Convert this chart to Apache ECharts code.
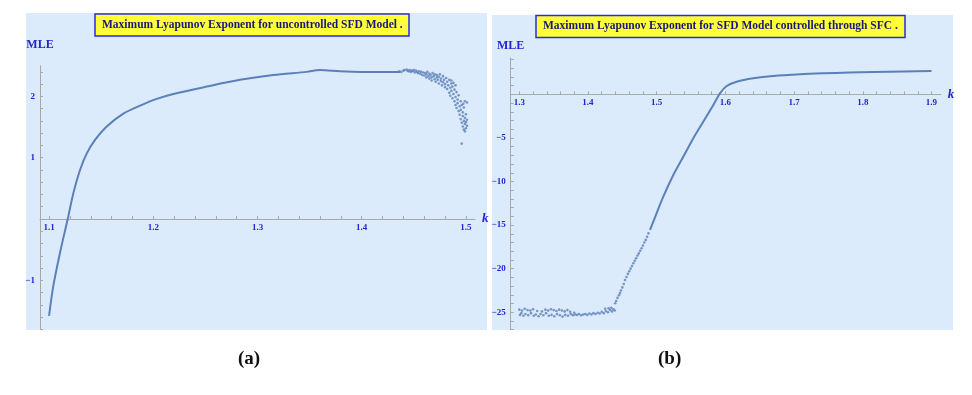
<!DOCTYPE html>
<html>
<head>
<meta charset="utf-8">
<script src="https://cdn.jsdelivr.net/npm/echarts@6/dist/echarts.min.js"></script>
<style>
html,body{margin:0;padding:0;background:#fff;}
#chart{width:972px;height:395px;}
</style>
</head>
<body>
<div id="chart"></div>
<script>
// ---------- Panel (a): uncontrolled SFD model ----------
var titleA = "Maximum Lyapunov Exponent for uncontrolled SFD Model .";
var lineA = [
  [1.100,-1.58],[1.104,-1.10],[1.1105,-0.55],[1.1179,0.00],[1.1233,0.42],[1.1297,0.80],
  [1.1362,1.07],[1.1441,1.29],[1.1553,1.51],[1.1713,1.72],[1.1873,1.85],[1.2033,1.96],
  [1.2193,2.04],[1.2513,2.16],[1.2832,2.27],[1.3152,2.35],[1.3472,2.40],[1.360,2.43],
  [1.3791,2.41],[1.400,2.40],[1.420,2.40],[1.437,2.40]
];
var scatterA = [
  [1.436,2.41],[1.438,2.40],[1.440,2.42],[1.441,2.43],[1.443,2.44],[1.444,2.42],[1.445,2.41],
  [1.446,2.43],[1.447,2.40],[1.448,2.42],[1.449,2.41],[1.450,2.43],[1.451,2.39],[1.452,2.42],
  [1.453,2.40],[1.454,2.38],[1.455,2.41],[1.456,2.37],[1.457,2.40],[1.458,2.35],[1.459,2.39],
  [1.460,2.34],[1.461,2.38],[1.462,2.31],[1.462,2.36],[1.463,2.40],[1.464,2.33],[1.465,2.29],
  [1.465,2.37],[1.466,2.35],[1.467,2.31],[1.467,2.26],[1.468,2.38],[1.469,2.33],[1.470,2.28],
  [1.470,2.36],[1.471,2.24],[1.472,2.31],[1.472,2.35],[1.473,2.27],[1.474,2.21],[1.474,2.32],
  [1.475,2.36],[1.476,2.25],[1.476,2.29],[1.477,2.18],[1.478,2.33],[1.478,2.23],[1.479,2.27],
  [1.480,2.15],[1.480,2.20],[1.481,2.30],[1.482,2.12],[1.482,2.24],[1.483,2.18],[1.484,2.06],
  [1.484,2.27],[1.485,2.14],[1.485,2.01],[1.486,2.21],[1.486,2.09],[1.487,1.97],[1.487,2.16],
  [1.488,2.04],[1.488,2.22],[1.489,1.92],[1.489,2.11],[1.490,1.99],[1.490,1.86],[1.491,2.07],
  [1.491,1.81],[1.492,1.95],[1.492,1.89],[1.493,1.76],[1.493,2.02],[1.494,1.84],[1.494,1.70],
  [1.495,1.92],[1.495,1.63],[1.495,1.78],[1.496,1.57],[1.496,1.86],[1.496,1.23],[1.497,1.68],
  [1.497,1.51],[1.497,1.74],[1.498,1.46],[1.498,1.60],[1.498,1.82],[1.499,1.55],[1.499,1.43],
  [1.499,1.65],[1.500,1.48],[1.500,1.58],[1.500,1.71],[1.501,1.52],[1.501,1.62],[1.490,2.18],
  [1.486,2.26],[1.4975,1.88],[1.499,1.92],[1.501,1.90]
];
var xLabelsA = [1.1,1.2,1.3,1.4,1.5];
var yLabelsA = [-1,1,2];

// ---------- Panel (b): controlled through SFC ----------
var titleB = "Maximum Lyapunov Exponent for SFD Model controlled through SFC .";
var lineB = [
  [1.4903,-15.56],[1.4961,-14.4],[1.5096,-11.74],[1.5242,-9.25],[1.5387,-7.16],[1.5533,-5.04],
  [1.5678,-3.14],[1.5824,-1.23],[1.5921,0.11],[1.6019,0.95],[1.6164,1.44],[1.6406,1.83],
  [1.6697,2.10],[1.7086,2.30],[1.7425,2.41],[1.780,2.50],[1.815,2.57],[1.860,2.63],[1.900,2.67]
];
var scatterB = [
  [1.300,-24.7],[1.304,-24.8],[1.308,-24.6],[1.312,-24.75],[1.316,-24.8],[1.320,-24.65],[1.326,-24.85],
  [1.333,-24.9],[1.338,-24.7],[1.342,-24.8],[1.346,-24.65],[1.350,-24.75],[1.354,-24.85],[1.358,-24.7],
  [1.362,-24.8],[1.366,-24.9],[1.370,-24.75],
  [1.301,-25.3],[1.303,-25.1],[1.306,-25.4],[1.309,-25.2],[1.313,-25.35],[1.317,-25.1],[1.321,-25.4],
  [1.324,-25.25],[1.328,-25.45],[1.331,-25.2],[1.335,-25.35],[1.339,-25.1],[1.343,-25.4],[1.347,-25.3],
  [1.351,-25.45],[1.355,-25.2],[1.359,-25.35],[1.363,-25.5],[1.367,-25.3],[1.371,-25.4],[1.375,-25.2],
  [1.378,-25.35],[1.381,-25.25],[1.384,-25.3],[1.387,-25.2],[1.390,-25.35],[1.393,-25.25],[1.396,-25.2],
  [1.399,-25.3],[1.402,-25.15],[1.405,-25.25],[1.408,-25.1],[1.411,-25.2],[1.414,-25.05],[1.417,-25.15],
  [1.420,-24.95],[1.423,-25.1],[1.426,-24.85],[1.429,-25.0],[1.432,-24.75],[1.435,-24.9],[1.437,-24.65],
  [1.439,-24.8],[1.374,-24.95],[1.380,-25.05],[1.425,-24.6],[1.430,-24.55],[1.434,-24.5],
  [1.4396,-23.97],[1.441,-23.7],[1.443,-23.35],[1.445,-23.05],[1.4466,-22.8],[1.448,-22.5],[1.450,-22.15],
  [1.452,-21.75],[1.4539,-21.3],[1.456,-20.95],[1.458,-20.6],[1.460,-20.3],[1.462,-20.0],[1.464,-19.7],
  [1.466,-19.38],[1.468,-19.1],[1.470,-18.8],[1.472,-18.5],[1.474,-18.25],[1.476,-17.95],[1.478,-17.66],
  [1.480,-17.35],[1.482,-17.0],[1.484,-16.7],[1.486,-16.35],[1.488,-15.95]
];
var xLabelsB = [1.3,1.4,1.5,1.6,1.7,1.8,1.9];
var yLabelsB = [-25,-20,-15,-10,-5];

// tick positions
function steps(a, b, s) { var r = []; for (var v = a; v <= b + 1e-9; v += s) r.push(+v.toFixed(4)); return r; }
var xTicksA = steps(1.1, 1.5, 0.02);
var yTicksA = steps(-1.8, 2.4, 0.2);
var xTicksB = steps(1.3, 1.9, 0.02);
var yTicksB = steps(-27, 4, 1);

var BLUE = '#2424d0';
var AXIS = '#a8a8a8';
var MARK = '#5b80b8';
var SERIF = '"Liberation Serif","DejaVu Serif",serif';

function fmt(v) { return String(v).replace('-', '\u2212'); }

var gridA = { left: 40, top: 65.75, width: 435, height: 263.6 };
var gridB = { left: 510.7, top: 57.7, width: 430, height: 272 };
var yRangeA = [-1.8, 2.5];
var yRangeB = [-27, 4.2];

// x axis sits on the y = 0 line: shift it up from the grid bottom
function zeroOffset(range, h) { return -(0 - range[0]) / (range[1] - range[0]) * h; }

function xAxisCfg(grid, min, max, labels, ticks, offset) {
  return {
    type: 'value', gridIndex: grid, min: min, max: max, position: 'bottom', offset: offset,
    splitLine: { show: false },
    axisLine: { onZero: false, lineStyle: { color: AXIS, width: 1 } },
    axisTick: { show: true, inside: true, length: 3, customValues: ticks, lineStyle: { color: AXIS } },
    axisLabel: { customValues: labels, color: BLUE, fontFamily: SERIF, fontWeight: 'bold', fontSize: 9, margin: 4, formatter: fmt },
    name: 'k', nameLocation: 'end', nameGap: 7,
    nameTextStyle: { color: BLUE, fontFamily: SERIF, fontStyle: 'italic', fontWeight: 'bold', fontSize: 13 }
  };
}
function yAxisCfg(grid, range, labels, ticks, gap) {
  return {
    type: 'value', gridIndex: grid, min: range[0], max: range[1],
    splitLine: { show: false },
    axisLine: { onZero: false, lineStyle: { color: AXIS, width: 1 } },
    axisTick: { show: true, inside: true, length: 3, customValues: ticks, lineStyle: { color: AXIS } },
    axisLabel: { customValues: labels, color: BLUE, fontFamily: SERIF, fontWeight: 'bold', fontSize: 9, margin: 5, formatter: fmt },
    name: 'MLE', nameLocation: 'end', nameGap: gap,
    nameTextStyle: { color: BLUE, fontFamily: SERIF, fontWeight: 'bold', fontSize: 12, align: 'center' }
  };
}

var chart = echarts.init(document.getElementById('chart'), null, { renderer: 'canvas' });
var titleText = { color: '#16167a', fontFamily: SERIF, fontWeight: 'bold', fontSize: 11.5, lineHeight: 14 };
var option = {
  backgroundColor: '#ffffff',
  animation: false,
  title: [
    { text: titleA, left: 95, top: 14, padding: [4, 7], backgroundColor: '#ffff3a', borderColor: '#2a2ae0', borderWidth: 1.5, textStyle: titleText },
    { text: titleB, left: 536, top: 15, padding: [4.5, 7], backgroundColor: '#ffff3a', borderColor: '#2a2ae0', borderWidth: 1.5, textStyle: titleText }
  ],
  graphic: [
    { type: 'rect', z: -10, silent: true, shape: { x: 26, y: 13, width: 461, height: 317 }, style: { fill: '#dcebfb' } },
    { type: 'rect', z: -10, silent: true, shape: { x: 492, y: 15, width: 461, height: 315 }, style: { fill: '#dcebfb' } },
    { type: 'text', left: 238, top: 350, style: { text: '(a)', font: 'bold 19px ' + SERIF, fill: '#111' } },
    { type: 'text', left: 658, top: 350, style: { text: '(b)', font: 'bold 19px ' + SERIF, fill: '#111' } }
  ],
  grid: [gridA, gridB],
  xAxis: [
    xAxisCfg(0, 1.0913, 1.5087, xLabelsA, xTicksA, zeroOffset(yRangeA, gridA.height)),
    xAxisCfg(1, 1.2875, 1.9134, xLabelsB, xTicksB, zeroOffset(yRangeB, gridB.height))
  ],
  yAxis: [
    yAxisCfg(0, yRangeA, yLabelsA, yTicksA, 15),
    yAxisCfg(1, yRangeB, yLabelsB, yTicksB, 6)
  ],
  series: [
    { type: 'line', xAxisIndex: 0, yAxisIndex: 0, data: lineA, smooth: 0.3, showSymbol: false, lineStyle: { color: MARK, width: 2 } },
    { type: 'scatter', xAxisIndex: 0, yAxisIndex: 0, data: scatterA, symbolSize: 2.6, itemStyle: { color: MARK } },
    { type: 'line', xAxisIndex: 1, yAxisIndex: 1, data: lineB, smooth: 0.3, showSymbol: false, lineStyle: { color: MARK, width: 2 } },
    { type: 'scatter', xAxisIndex: 1, yAxisIndex: 1, data: scatterB, symbolSize: 2.6, itemStyle: { color: MARK } }
  ]
};
chart.setOption(option);
</script>
</body>
</html>
